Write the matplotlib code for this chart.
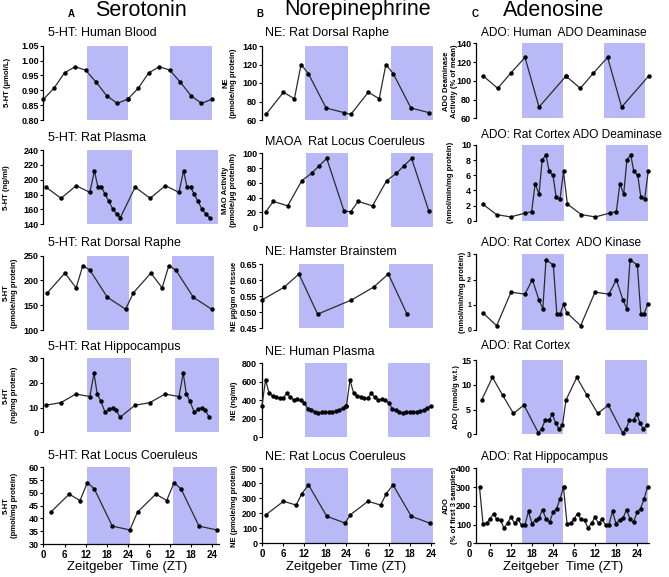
import numpy as np
import matplotlib.pyplot as plt

plt.rcParams['font.family'] = ['Liberation Sans', 'DejaVu Sans']

W, H = 669, 577
SHADE = '#b9b9f7'

# one cycle per panel (ZT hours); each panel is double plotted
# --- Serotonin ---
a1_x = [0, 3, 6, 9, 12, 15, 18, 21, 24]
a1_y = [0.870, 0.907, 0.959, 0.979, 0.968, 0.927, 0.882, 0.856, 0.870]
a2_x = [0.7, 5.0, 9.3, 13.2, 14.5, 15.5, 16.5, 17.5, 18.6, 19.7, 20.8, 21.9]
a2_y = [190, 175, 192, 183, 212, 190, 190, 181, 171, 161, 154, 149]
a3_x = [1.1, 6.1, 9.3, 11.2, 13.2, 18.2, 23.4]
a3_y = [175, 215, 185, 230, 221, 166, 142]
a4_x = [0.7, 4.9, 9.2, 13.2, 14.4, 15.3, 16.3, 17.5, 18.7, 19.7, 20.7, 21.8]
a4_y = [11, 12, 15.5, 14.5, 24, 15.5, 12.7, 8.3, 9.3, 10, 9, 6.1]
a5_x = [2.1, 7.3, 10.4, 12.5, 14.5, 19.6, 24.6]
a5_y = [42.5, 49.5, 47, 54, 51.5, 37, 35.5]

# --- Norepinephrine ---
b1_x = [1.1, 6.1, 9.2, 11.1, 13.2, 18.2, 23.3]
b1_y = [66, 90, 83, 120, 110, 73, 68]
b2_x = [1.1, 3.2, 7.3, 11.3, 14.1, 16.2, 18.4, 23.3]
b2_y = [21, 35, 29, 63, 73, 83, 93, 22]
b3_x = [0, 6.3, 10.5, 15.8]
b3_y = [0.538, 0.578, 0.619, 0.494]
b4_x = list(range(0, 25))
b4_y = [340, 620, 480, 445, 440, 420, 420, 475, 435, 405, 410, 400, 375,
        310, 295, 270, 260, 270, 270, 270, 270, 280, 295, 315, 340]
b5_x = [1.1, 6.1, 9.7, 11.3, 13.2, 18.4, 23.6]
b5_y = [190, 280, 255, 330, 390, 180, 135]

# --- Adenosine ---
c1_x = [4.1, 8.2, 11.9, 16.0, 20.0, 27.7]
c1_y = [105, 92, 108, 125, 72, 105]
c2_x = [3.9, 7.9, 11.9, 16.0, 17.9, 18.9, 20.0, 20.9, 22.0, 22.9, 24.0, 24.9, 26.0, 27.0]
c2_y = [2.2, 0.8, 0.5, 1.0, 1.2, 4.9, 3.5, 8.0, 8.7, 6.5, 6.0, 3.1, 2.9, 6.5]
c3_x = [3.9, 7.9, 12.0, 16.0, 18.1, 20.0, 21.1, 22.0, 24.1, 25.1, 26.0, 27.0]
c3_y = [0.69, 0.17, 1.5, 1.42, 2.0, 1.18, 0.85, 2.78, 2.58, 0.62, 0.62, 1.02]
c4_x = [3.6, 6.7, 9.6, 12.7, 15.7, 19.8, 20.8, 21.7, 22.9, 23.8, 24.8, 25.7, 26.7]
c4_y = [6.9, 11.5, 7.9, 4.2, 5.9, 0.3, 1.1, 2.8, 2.8, 4.1, 2.2, 1.1, 1.8]
c5_x = list(range(3, 28))
c5_y = [300, 105, 107, 130, 158, 127, 122, 82, 107, 140, 107, 128, 98, 100, 170,
        105, 125, 133, 180, 130, 112, 165, 185, 235, 300]

# dark phases (ZT hours) as drawn in each panel
a_dark = [[(12.3, 24.2), (36.0, 47.9)], [(12.4, 25.1), (37.7, 49.7)], [(12.3, 24.4), (36.5, 48.6)],
          [(12.3, 24.8), (37.5, 50.1)], [(12.3, 24.6), (36.8, 49.3)]]
b_dark = [[(12.3, 24.3), (36.6, 48.5)], [(12.5, 24.3), (36.6, 48.7)], [(10.5, 23.3), (36.1, 48.7)],
          [(12.2, 24.1), (35.9, 47.7)], [(12.2, 24.5), (36.6, 48.7)]]
c_dark = [[(15.1, 26.8), (38.6, 50.3)], [(15.1, 27.0), (39.1, 51.2)], [(15.1, 27.0), (39.0, 51.2)],
          [(15.1, 26.8), (38.9, 50.8)], [(15.1, 26.9), (39.1, 51.2)]]

xtick_pos = [0, 6, 12, 18, 24, 30, 36, 42, 48]
xtick_lab = ['0', '6', '12', '18', '24', '6', '12', '18', '24']

panels = [
    ("A", 0, "5-HT: Human Blood", "5-HT (µmol/L)", a1_x, a1_y, 24.0, (0.80, 1.05), np.arange(0.80, 1.051, 0.05), "{:.2f}"),
    ("A", 1, "5-HT: Rat Plasma", "5-HT (ng/ml)", a2_x, a2_y, 25.4, (140, 240), np.arange(140, 241, 20), "{:.0f}"),
    ("A", 2, "5-HT: Rat Dorsal Raphe", "5-HT\n(pmole/mg protein)", a3_x, a3_y, 24.5, (100, 250), np.arange(100, 251, 50), "{:.0f}"),
    ("A", 3, "5-HT: Rat Hippocampus", "5-HT\n(ng/mg protein)", a4_x, a4_y, 25.4, (0, 30), np.arange(0, 31, 10), "{:.0f}"),
    ("A", 4, "5-HT: Rat Locus Coeruleus", "5-HT\n(pmol/mg protein)", a5_x, a5_y, 24.7, (30, 60), np.arange(30, 61, 5), "{:.0f}"),
    ("B", 0, "NE: Rat Dorsal Raphe", "NE\n(pmole/mg protein)", b1_x, b1_y, 24.1, (60, 140), np.arange(60, 141, 20), "{:.0f}"),
    ("B", 1, "MAOA  Rat Locus Coeruleus", "MAO Activity\n(pmole/µg protein/h)", b2_x, b2_y, 24.1, (0, 100), np.arange(0, 101, 20), "{:.0f}"),
    ("B", 2, "NE: Hamster Brainstem", "NE µg/gm of tissue", b3_x, b3_y, 25.4, (0.45, 0.65), np.arange(0.45, 0.651, 0.05), "{:.2f}"),
    ("B", 3, "NE: Human Plasma", "NE (ng/ml)", b4_x, b4_y, 24.0, (0, 800), np.arange(0, 801, 200), "{:.0f}"),
    ("B", 4, "NE: Rat Locus Coeruleus", "NE (pmole/mg protein)", b5_x, b5_y, 24.0, (0, 500), np.arange(0, 501, 100), "{:.0f}"),
    ("C", 0, "ADO: Human  ADO Deaminase", "ADO Deaminase\nActivity (% of mean)", c1_x, c1_y, 23.6, (60, 140), np.arange(60, 141, 20), "{:.0f}"),
    ("C", 1, "ADO: Rat Cortex ADO Deaminase", "(nmol/min/mg protein)", c2_x, c2_y, 24.2, (0, 10), np.arange(0, 11, 2), "{:.0f}"),
    ("C", 2, "ADO: Rat Cortex  ADO Kinase", "(nmol/min/mg protein)", c3_x, c3_y, 24.0, (0, 3), np.arange(0, 4, 1), "{:.0f}"),
    ("C", 3, "ADO: Rat Cortex", "ADO (nmol/g w.t.)", c4_x, c4_y, 24.1, (0, 15), np.arange(0, 16, 5), "{:.0f}"),
    ("C", 4, "ADO: Rat Hippocampus", "ADO\n(% of first 3 samples)", c5_x, c5_y, 24.0, (0, 400), np.arange(0, 401, 100), "{:.0f}"),
]
darks = {"A": a_dark, "B": b_dark, "C": c_dark}

# layout in pixels: x of ZT 0, px per hour, x limits
cols = {"A": (43.5, 3.51, 0.0, 50.0), "B": (262.0, 3.52, 0.0, 49.0), "C": (469.0, 3.50, 2.0, 51.5)}
rows = {
    "A": [(45.7, 120), (150, 224.3), (255.7, 330), (358.3, 432.3), (467.3, 544)],
    "B": [(46, 120), (153.3, 227.3), (264, 328.3), (363.3, 437.3), (468.3, 543.3)],
    "C": [(43.3, 118.3), (145, 220.7), (254.3, 330), (360, 434.3), (468.3, 543.3)],
}
title_pos = {"A": (48, [33, 138, 243, 347, 456]),
             "B": (265, [33, 142, 252, 352, 457]),
             "C": (481, [33, 135, 243, 346, 457])}
title_size = {"A": 9, "B": 9, "C": 8.6}
ylab_x = {"A": [8, 7, 10, 10, 10], "B": [230, 230, 235, 235, 235], "C": [450, 451, 463, 456, 450]}

fig = plt.figure(figsize=(W / 100, H / 100), dpi=100)


def fx(px):
    return px / W


def fy(py):
    return 1 - py / H


for col, r, title, ylab, xs, ys, shift, ylim, yticks, fmt in panels:
    x0, s, xmin, xmax = cols[col]
    top, bot = rows[col][r]
    ax = fig.add_axes([fx(x0 + xmin * s), fy(bot), (xmax - xmin) * s / W, (bot - top) / H])
    for a, b in darks[col][r]:
        ax.axvspan(a, b, color=SHADE, lw=0, zorder=0)
    xx = np.concatenate([np.asarray(xs, float), np.asarray(xs, float) + shift])
    yy = np.concatenate([ys, ys])
    ax.plot(xx, yy, '-o', color='#2b2b2b', lw=0.9, ms=2.2, mfc='black', mec='black',
            zorder=3, clip_on=False)
    ax.set_xlim(xmin, xmax)
    ax.set_ylim(*ylim)
    ax.set_yticks(yticks)
    ax.set_yticklabels([fmt.format(v) for v in yticks], fontweight='bold',
                       fontsize=5 if (col == "C" and r == 2) else 6.5)
    ax.spines['top'].set_visible(False)
    ax.spines['right'].set_visible(False)
    ax.spines['left'].set_linewidth(0.9)
    ax.tick_params(axis='y', direction='out', length=2.5, width=0.8, pad=1)
    if r == 4:
        ax.spines['bottom'].set_linewidth(0.9)
        ticks = [t for t in xtick_pos if t >= xmin]
        ax.set_xticks(ticks)
        ax.set_xticklabels(xtick_lab[len(xtick_pos) - len(ticks):], fontweight='bold', fontsize=7)
        ax.tick_params(axis='x', direction='out', length=2.5, width=0.8, pad=1.5)
        if xmin > 0:
            # the 0 label sits just left of the shortened axis
            ax.text(0, -0.075, '0', transform=ax.get_xaxis_transform(), ha='center', va='top',
                    fontsize=7, fontweight='bold', clip_on=False)
    else:
        ax.spines['bottom'].set_visible(False)
        ax.set_xticks([])
    ax.set_facecolor('none')

    tx, tys = title_pos[col]
    fig.text(fx(tx), fy(tys[r]), title, fontsize=title_size[col], ha='left', va='center')
    fig.text(fx(ylab_x[col][r]), fy((top + bot) / 2), ylab, rotation=90, fontsize=5.5,
             fontweight='bold', ha='center', va='center', multialignment='center')

# column headers
for name, cx, letter, lx in [("Serotonin", 141, "A", 71), ("Norepinephrine", 358, "B", 260),
                             ("Adenosine", 554, "C", 475)]:
    fig.text(fx(cx), fy(10), name, fontsize=15.5, ha='center', va='center')
    fig.text(fx(lx), fy(14), letter, fontsize=7, fontweight='bold', ha='center', va='center')

for cx in [127, 346, 563]:
    fig.text(fx(cx), fy(567), "Zeitgeber  Time (ZT)", fontsize=9.5, ha='center', va='center')

fig.savefig("out.png", dpi=100)
